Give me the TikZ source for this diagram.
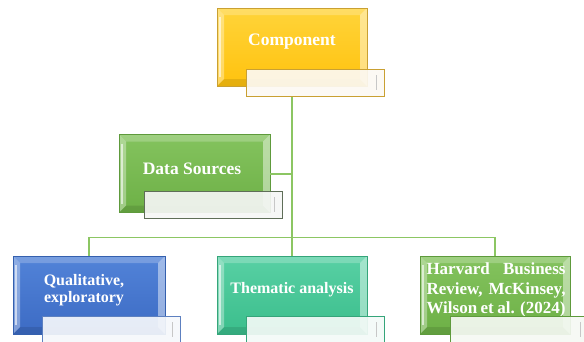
\documentclass[tikz,border=0pt]{standalone}
\usepackage{fontspec}
\setmainfont{Liberation Serif}
\definecolor{cYel}{HTML}{FFC20E}
\definecolor{cYelT}{HTML}{FFD43A}
\definecolor{cYelE}{HTML}{C9A032}
\definecolor{cGrn}{HTML}{6DB046}
\definecolor{cGrnT}{HTML}{84C35E}
\definecolor{cGrnE}{HTML}{5E9A3C}
\definecolor{cBlu}{HTML}{3C6BC4}
\definecolor{cBluT}{HTML}{5283D8}
\definecolor{cBluE}{HTML}{3560AE}
\definecolor{cTea}{HTML}{3BBE8C}
\definecolor{cTeaT}{HTML}{58D0A4}
\definecolor{cTeaE}{HTML}{35A57A}
\definecolor{cLine}{HTML}{8CC663}
\definecolor{cSubG}{HTML}{5F6E58}
\definecolor{cSubB}{HTML}{5D80C0}
\tikzset{
  bevel/.style={path picture={
    \path (path picture bounding box.north west) coordinate (pNW)
          (path picture bounding box.north east) coordinate (pNE)
          (path picture bounding box.south west) coordinate (pSW)
          (path picture bounding box.south east) coordinate (pSE);
    \fill[white,opacity=.22] (pNW) -- (pNE) -- ([shift={(-7pt,-7pt)}]pNE) -- ([shift={(7pt,-7pt)}]pNW) -- cycle;
    \fill[white,opacity=.35] (pNW) -- ([shift={(7pt,-7pt)}]pNW) -- ([shift={(7pt,7pt)}]pSW) -- (pSW) -- cycle;
    \fill[white,opacity=.45] (pNE) -- ([shift={(-7pt,-7pt)}]pNE) -- ([shift={(-7pt,7pt)}]pSE) -- (pSE) -- cycle;
    \fill[black,opacity=.10] (pSW) -- ([shift={(7pt,7pt)}]pSW) -- ([shift={(-7pt,7pt)}]pSE) -- (pSE) -- cycle;
    \draw[white,opacity=.6,line width=1.2pt] ([shift={(3pt,-9pt)}]pNW) -- ([shift={(3pt,9pt)}]pSW);
  }},
  mainbox/.style n args={3}{draw=#3, line width=0.6pt, top color=#2, bottom color=#1,
    minimum height=78pt, inner sep=0pt, bevel},
  subbox/.style={draw=#1, line width=1pt, fill=#1!6!white, fill opacity=0.92,
    minimum height=27pt, minimum width=138pt, inner sep=0pt,
    path picture={\draw[black!22,line width=1pt] ([shift={(-8pt,-6pt)}]path picture bounding box.north east) -- ([shift={(-8pt,6pt)}]path picture bounding box.south east);}},
  lbl/.style={text=white, font=\bfseries\fontsize{16}{18}\selectfont, align=center, inner sep=0pt},
  conn/.style={draw=cLine, line width=1.4pt}
}
\begin{document}
\begin{tikzpicture}[x=1pt,y=-1pt]
\useasboundingbox (0,0) rectangle (584,341);
\clip (0,0) rectangle (584,341);
% boxes
\node[mainbox={cYel}{cYelT}{cYelE}, minimum width=150pt] (comp) at (292,47) {};
\node[mainbox={cGrn}{cGrnT}{cGrnE}, minimum width=151pt] (data) at (194.5,173.5) {};
\node[mainbox={cBlu}{cBluT}{cBluE}, minimum width=152pt] (qual) at (89,295) {};
\node[mainbox={cTea}{cTeaT}{cTeaE}, minimum width=150pt] (them) at (292,295) {};
\node[mainbox={cGrn}{cGrnT}{cGrnE}, minimum width=150pt] (harv) at (495,295) {};
% texts
\node[lbl, font=\bfseries\fontsize{17.5}{19}\selectfont] (compT) at (292,42) {Component};
\node[lbl, font=\bfseries\fontsize{17.5}{19}\selectfont] (dataT) at (192,169) {Data Sources};
\node[lbl, font=\bfseries\fontsize{16}{17}\selectfont] (qualT) at (84,290) {Qualitative,\\exploratory};
\node[lbl] (themT) at (292,290) {Thematic analysis};
\node[lbl, font=\bfseries\fontsize{17}{19.5}\selectfont] (harvT) at (496,290)
  {\makebox[139pt][s]{Harvard Business}\\\makebox[139pt][s]{Review, McKinsey,}\\\makebox[139pt][s]{Wilson et al. (2024)}};
% sub boxes
\node[subbox=cYelE] (compS) at (315,82.5) {};
\node[subbox=cSubG] (dataS) at (213,204.5) {};
\node[subbox=cSubB] (qualS) at (111.5,329.5) {};
\node[subbox=cTeaE] (themS) at (315,329.5) {};
\node[subbox=cGrnE] (harvS) at (519,329.5) {};
% connectors
\coordinate (j1) at (292,174);
\coordinate (j2) at (292,237.5);
\draw[conn] (comp.center|-compS.south) -- (j2);
\draw[conn] (data.east|-j1) -- (j1);
\draw[conn] (qual.north) -- (qual.north|-j2) -- (harv.north|-j2) -- (harv.north);
\draw[conn] (j2) -- (them.north);
\end{tikzpicture}
\end{document}
